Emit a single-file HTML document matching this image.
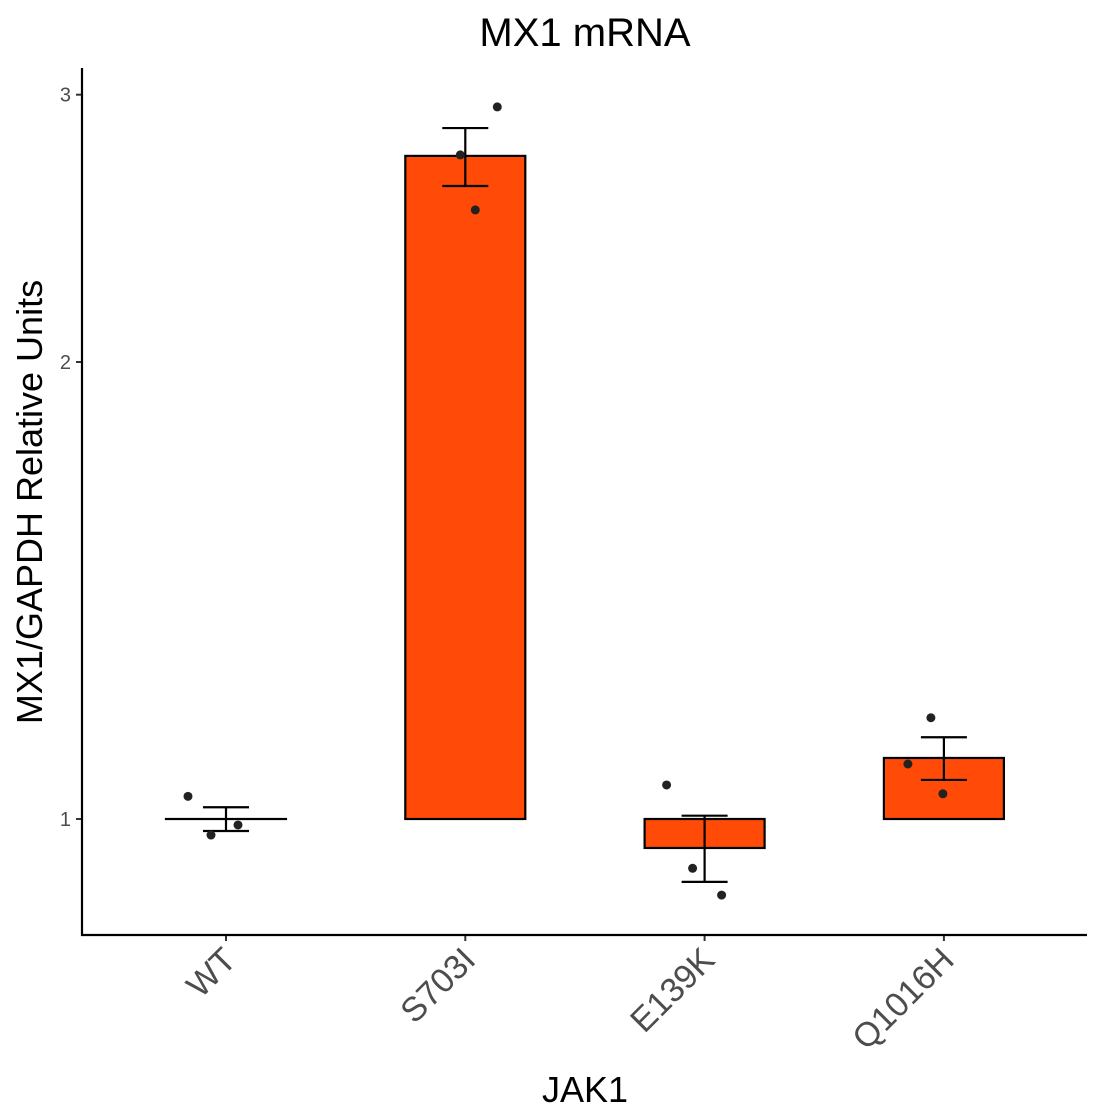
<!DOCTYPE html>
<html><head><meta charset="utf-8"><style>
body{margin:0;background:#fff}
svg{display:block;font-family:"Liberation Sans",Arial,sans-serif}
</style></head><body>
<svg id="chart" width="1102" height="1120">
<text x="585" y="46" font-size="40" text-anchor="middle" fill="#000">MX1 mRNA</text>
<text x="585" y="1102" font-size="36" text-anchor="middle" fill="#000">JAK1</text>
<text transform="translate(42,502) rotate(-90)" font-size="36" text-anchor="middle" fill="#000">MX1/GAPDH Relative Units</text>
<g id="marks"></g>
</svg>
<script>
const categories=["WT","S703I","E139K","Q1016H"];
const means=[1.0,2.734,0.957,1.097];
const errLow=[0.982,2.612,0.909,1.061];
const errHigh=[1.018,2.852,1.005,1.132];
const points=[[1.035,0.976,0.991],[2.945,2.738,2.519],[1.053,0.928,0.891],[1.166,1.087,1.039]];
const jitter=[[-38,-15,12],[32,-5,10],[-38,-12,17],[-13,-36,-1]];
const yTicks=[1,2,3];

const NS="http://www.w3.org/2000/svg";
const g=document.getElementById('marks');
const y0=819,k=659.3;
function y(v){return y0-Math.log(v)*k;}
function x(i){return 226+i*239.3;}
function mk(t,a){const e=document.createElementNS(NS,t);for(const n in a)e.setAttribute(n,a[n]);g.appendChild(e);return e;}

categories.forEach((c,i)=>{
  const cx=x(i),top=Math.min(y(means[i]),y(1)),bot=Math.max(y(means[i]),y(1));
  const bar=mk('rect',{x:cx-60,y:top,width:120,height:Math.max(bot-top,0.01),fill:'#FF4A08',stroke:'#000','stroke-width':2.2});
  
  
  const eb=mk('path',{d:`M${cx-23},${y(errHigh[i])}H${cx+23}M${cx},${y(errHigh[i])}V${y(errLow[i])}M${cx-23},${y(errLow[i])}H${cx+23}`,stroke:'#000','stroke-width':2.2,fill:'none'});
  
  
  points[i].forEach((p,j)=>{
    const d=mk('circle',{cx:cx+jitter[i][j],cy:y(p),r:4.5,fill:'#222'});
    
    
  });
  mk('line',{x1:cx,x2:cx,y1:935,y2:941,stroke:'#333','stroke-width':2});
  const t=mk('text',{transform:`translate(${cx+12},${962}) rotate(-45)`,'font-size':34,'text-anchor':'end',fill:'#4d4d4d'});
  t.textContent=c;
  
  
});
yTicks.forEach(v=>{
  mk('line',{x1:76,x2:82,y1:y(v),y2:y(v),stroke:'#333','stroke-width':2});
  const t=mk('text',{x:71,y:y(v)+7,'font-size':20,'text-anchor':'end',fill:'#4d4d4d'});
  t.textContent=v;
  
  
});
const ax=mk('path',{d:'M82,68V935H1087',stroke:'#000','stroke-width':2.2,fill:'none'});


</script>
</body></html>
